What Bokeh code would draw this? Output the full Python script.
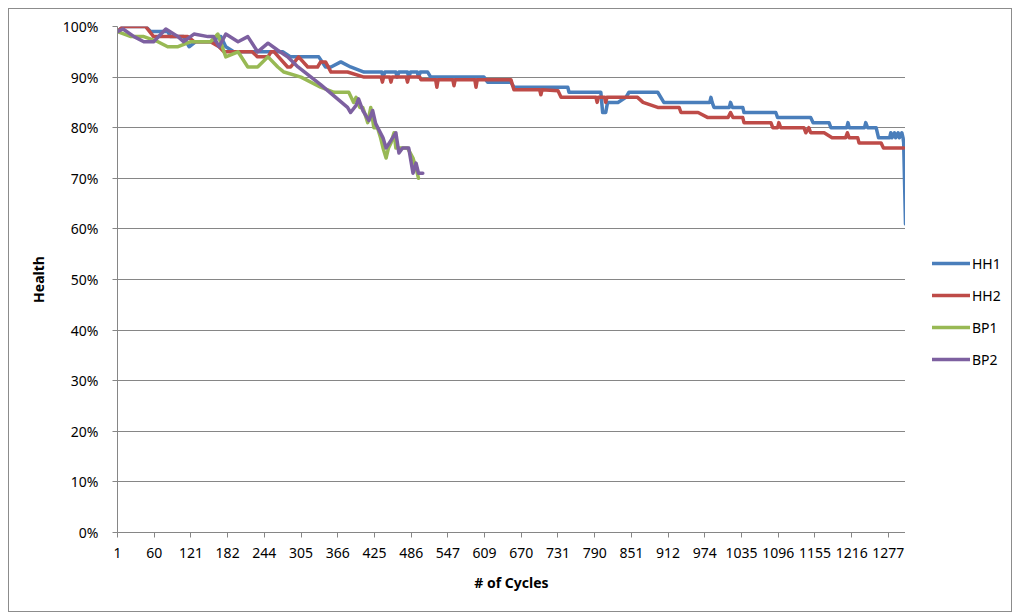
from bokeh.plotting import figure
from bokeh.layouts import row
from bokeh.models import Range1d, FixedTicker, Legend, LegendItem
from bokeh.embed import file_html
from bokeh.resources import INLINE

# x tick positions are category indices; labels are the cycle numbers shown
tick_pos = list(range(0, 1261, 60))
tick_labels = ["1", "60", "121", "182", "244", "305", "366", "425", "486", "547", "609",
               "670", "731", "790", "851", "912", "974", "1035", "1096", "1155", "1216", "1277"]
y_ticks = list(range(0, 101, 10))
n_categories = 1288

hh1_x = [0, 9, 46, 54, 82, 87, 108, 117, 128, 157, 164, 169, 177, 190, 270, 283, 329, 340, 349,
         365, 381, 403, 432, 434, 437, 455, 457, 460, 474, 476, 479, 490, 492, 495, 507, 512, 599,
         605, 643, 648, 736, 738, 790, 793, 798, 801, 818, 831, 836, 883, 893, 968, 970, 972, 975,
         1000, 1002, 1005, 1022, 1024, 1076, 1079, 1133, 1137, 1163, 1166, 1192, 1194, 1196, 1221,
         1223, 1226, 1240, 1244, 1262, 1264, 1266, 1270, 1272, 1276, 1278, 1282, 1284, 1285, 1288]
hh1_y = [99, 100, 100, 99, 99, 98, 98, 96, 97, 97, 98, 98, 96, 95, 95, 94, 94, 92, 92,
         93, 92, 91, 91, 90, 91, 91, 90, 91, 91, 90, 91, 91, 90, 91, 91, 90, 90,
         89, 89, 88, 88, 87, 87, 83, 83, 85, 85, 86, 87, 87, 85, 85, 86, 85, 84,
         84, 85, 84, 84, 83, 83, 82, 82, 81, 81, 80, 80, 81, 80, 80,
         81, 80, 80, 78, 78, 79, 78, 79, 78, 79, 78, 79, 78, 77, 61]

hh2_x = [0, 9, 46, 59, 115, 125, 152, 166, 174, 220, 229, 246, 251, 256, 278, 283, 296, 311, 327,
         332, 340, 349, 376, 403, 431, 433, 435, 445, 447, 449, 472, 474, 476, 494, 496, 520, 522,
         524, 548, 550, 552, 584, 586, 588, 643, 648, 690, 692, 694, 720, 725, 782, 784, 786, 796,
         798, 800, 850, 859, 883, 918, 921, 949, 965, 998, 1002, 1006, 1022, 1024, 1068, 1071,
         1079, 1081, 1084, 1122, 1125, 1130, 1133, 1155, 1168, 1190, 1193, 1196, 1210, 1212, 1248,
         1252, 1285]
hh2_y = [99, 100, 100, 98, 98, 97, 97, 96, 95, 95, 94, 94, 95, 95, 92, 92, 94, 92, 92,
         93, 93, 91, 91, 90, 90, 89, 90, 90, 89, 90, 90, 89, 90, 90, 89.5, 89.5, 88,
         89.5, 89.5, 88.3, 89.5, 89.5, 88, 89.5, 89.5, 87.5, 87.5, 86.5, 87.5, 87.3, 86, 86, 85, 86, 86,
         85, 86, 86, 85, 84, 84, 83, 83, 82, 82, 83, 82, 82, 81, 81, 80,
         80, 81, 80, 80, 79, 80, 79, 79, 78, 78, 79, 78, 78, 77, 77,
         76, 76]

bp1_x = [0, 22, 43, 66, 82, 99, 120, 152, 164, 177, 197, 213, 229, 246, 262, 272, 300, 332, 354,
         378, 386, 390, 396, 401, 409, 414, 419, 425, 430, 434, 439, 443, 447, 452, 455, 466, 474,
         483, 488, 492]
bp1_y = [99, 98, 98, 97, 96, 96, 97, 97, 98.5, 94, 95, 92, 92, 94, 92, 91, 90, 88, 87,
         87, 85, 86, 84, 84, 81, 84, 80, 80, 78, 76, 74, 76, 77, 79, 76, 76, 76,
         74, 72, 70]

bp2_x = [0, 9, 27, 43, 59, 79, 99, 108, 125, 148, 157, 166, 177, 197, 213, 229, 246, 262, 278,
         295, 332, 376, 381, 390, 394, 401, 411, 417, 422, 434, 439, 447, 455, 460, 466, 476, 483,
         488, 492, 499]
bp2_y = [99, 99.5, 98, 97, 97, 99.5, 98, 97, 98.5, 98, 98, 96, 98.5, 97, 98, 95, 96.7, 95.3, 94,
         92, 88.5, 84, 83, 84.4, 85.7, 83.4, 81.4, 83.4, 80.8, 78, 76, 77.5, 79, 75, 76, 76, 71,
         73, 71, 71]

series_names = ["HH1", "HH2", "BP1", "BP2"]
series_colors = ["#4A7EBB", "#BE4B48", "#98B954", "#7D60A0"]

FONT = "Noto Sans"
GRAY = "#868686"

p = figure(width=896, height=602, output_backend="svg", toolbar_location=None,
           x_range=Range1d(0, n_categories), y_range=Range1d(0, 100),
           min_border_left=108, min_border_right=0, min_border_top=17, min_border_bottom=79)
p.outline_line_color = None
p.background_fill_color = "white"

for xs, ys, col in zip([hh1_x, hh2_x, bp1_x, bp2_x], [hh1_y, hh2_y, bp1_y, bp2_y], series_colors):
    p.line(xs, ys, line_color=col, line_width=3.5, line_join="round", line_cap="round")

# axes
p.xaxis.ticker = FixedTicker(ticks=tick_pos)
p.xaxis.major_label_overrides = {t: l for t, l in zip(tick_pos, tick_labels)}
p.yaxis.ticker = FixedTicker(ticks=y_ticks)
p.yaxis.major_label_overrides = {t: f"{t}%" for t in y_ticks}

for ax in (p.xaxis[0], p.yaxis[0]):
    ax.axis_line_color = GRAY
    ax.axis_line_width = 1
    ax.major_tick_line_color = GRAY
    ax.major_tick_in = 0
    ax.major_tick_out = 5
    ax.minor_tick_line_color = None
    ax.major_label_text_font = FONT
    ax.major_label_text_font_size = "14px"
    ax.major_label_text_color = "#000000"
    ax.axis_label_text_font = FONT
    ax.axis_label_text_font_size = "14px"
    ax.axis_label_text_font_style = "bold"
    ax.axis_label_text_color = "#000000"

p.xaxis.axis_label = "# of Cycles"
p.yaxis.axis_label = "Health"
p.xaxis.major_label_standoff = 10
p.xaxis.axis_label_standoff = 12
p.yaxis.major_label_standoff = 14
p.yaxis.axis_label_standoff = 12

p.xgrid.grid_line_color = None
p.ygrid.grid_line_color = GRAY
p.ygrid.grid_line_width = 1

# legend panel to the right of the plot area (proxy lines lie outside its visible range)
lp = figure(width=106, height=602, output_backend="svg", toolbar_location=None,
            x_axis_type=None, y_axis_type=None, x_range=Range1d(0, 1), y_range=Range1d(0, 1),
            min_border_left=0, min_border_right=0, min_border_top=0, min_border_bottom=0)
lp.outline_line_color = None
lp.xgrid.grid_line_color = None
lp.ygrid.grid_line_color = None
proxies = [lp.line([5, 6], [5, 6], line_color=c, line_width=3.5, line_cap="round")
           for c in series_colors]

legend = Legend(items=[LegendItem(label=n, renderers=[r]) for n, r in zip(series_names, proxies)],
                location=(27, 163), orientation="vertical",
                glyph_width=38, glyph_height=20, label_height=20, label_standoff=2,
                spacing=12, padding=0, margin=0,
                label_text_font=FONT, label_text_font_size="14px", label_text_color="#000000",
                background_fill_alpha=0, border_line_color=None)
lp.add_layout(legend)

layout = row(p, lp, spacing=0)
layout.styles = {"border": "1px solid #8c8c8c", "margin": "8px 0 0 8px"}

open("out.html", "w").write(file_html(layout, INLINE))
